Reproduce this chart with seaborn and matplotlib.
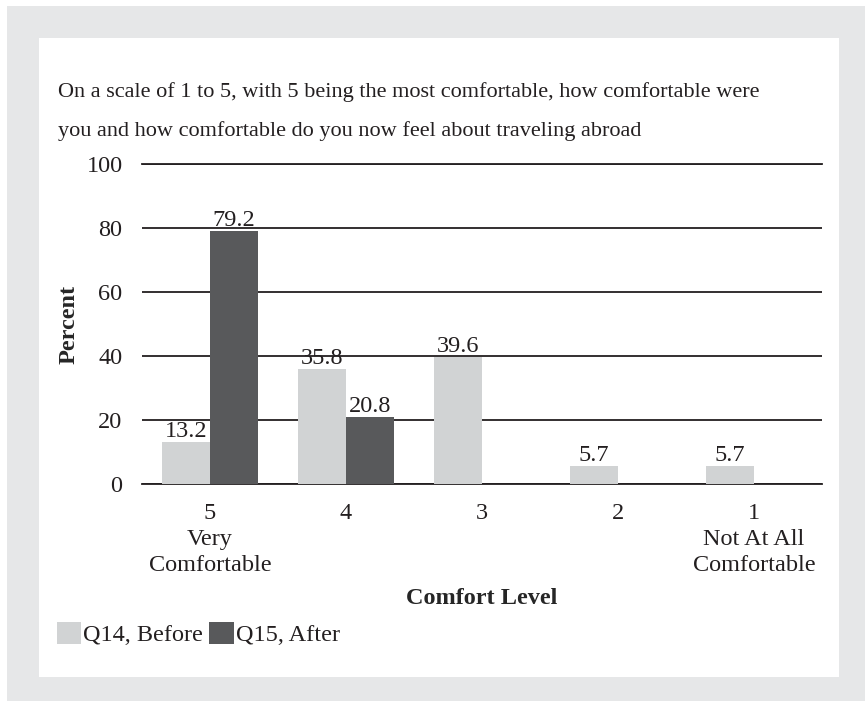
import pandas as pd
import matplotlib.pyplot as plt
import seaborn as sns
from matplotlib.patches import Rectangle

# data
levels = ["5\nVery\nComfortable", "4", "3", "2", "1\nNot At All\nComfortable"]
before = [13.2, 35.8, 39.6, 5.7, 5.7]
after = [79.2, 20.8, 0.0, 0.0, 0.0]
series_names = ["Q14, Before", "Q15, After"]
yticks = [0, 20, 40, 60, 80, 100]

df = pd.DataFrame({
    "level": levels * 2,
    "percent": before + after,
    "series": [series_names[0]] * len(levels) + [series_names[1]] * len(levels),
})

W, H = 865, 701
sns.set_theme(style="white")
plt.rcParams["font.family"] = ["Liberation Serif", "DejaVu Serif"]
plt.rcParams["text.color"] = "#231f20"

fig = plt.figure(figsize=(W / 100, H / 100), dpi=100, facecolor="white")

# grey frame and white panel behind the chart
fig.patches.append(Rectangle((7 / W, 0), 1 - 7 / W, 1 - 6 / H, transform=fig.transFigure,
                             facecolor="#e6e7e8", edgecolor="none", zorder=-2))
fig.patches.append(Rectangle((39 / W, 1 - 677 / H), 800 / W, 639 / H, transform=fig.transFigure,
                             facecolor="white", edgecolor="none", zorder=-1))

ax = fig.add_axes([142 / W, 1 - 484 / H, 680 / W, 320 / H])
ax.set_facecolor("none")

sns.barplot(data=df, x="level", y="percent", hue="series", order=levels,
            palette=["#d1d3d4", "#58595b"], width=0.7, saturation=1,
            linewidth=0, edgecolor="none", ax=ax, legend=True, zorder=3)

for cont in ax.containers:
    labels = [f"{b.get_height():.1f}" if b.get_height() > 0 else "" for b in cont]
    ax.bar_label(cont, labels=labels, padding=0, fontsize=17.5, color="#231f20")

ax.set_ylim(0, 100)
ax.set_yticks(yticks)
ax.yaxis.grid(True, color="#231f20", linewidth=1.3, zorder=0)
ax.set_axisbelow(True)
for side in ["left", "right"]:
    ax.spines[side].set_visible(False)
for side in ["top", "bottom"]:
    ax.spines[side].set_color("#231f20")
    ax.spines[side].set_linewidth(1.3)
ax.tick_params(axis="both", length=0, labelsize=17.5, colors="#231f20")
ax.tick_params(axis="y", pad=14)
ax.tick_params(axis="x", pad=14)
for t in ax.get_xticklabels():
    t.set_linespacing(1.3)

ax.set_ylabel("Percent", fontsize=17.5, fontweight="bold")
ax.yaxis.set_label_coords(-0.092, 0.5)
ax.set_xlabel("Comfort Level", fontsize=17.5, fontweight="bold")
ax.xaxis.set_label_coords(0.5, -0.325)

ax.legend(loc="center left", bbox_to_anchor=(47 / W, 1 - 634 / H), bbox_transform=fig.transFigure,
          ncol=2, frameon=False, fontsize=17.5, handlelength=1.0, handleheight=1.0,
          handletextpad=0.1, columnspacing=0.25, borderaxespad=0)

fig.text(58 / W, 1 - 82 / H,
         "On a scale of 1 to 5, with 5 being the most comfortable, how comfortable were\n"
         "you and how comfortable do you now feel about traveling abroad",
         fontsize=16, ha="left", va="top", linespacing=2.3)

fig.savefig("out.png", dpi=100)
